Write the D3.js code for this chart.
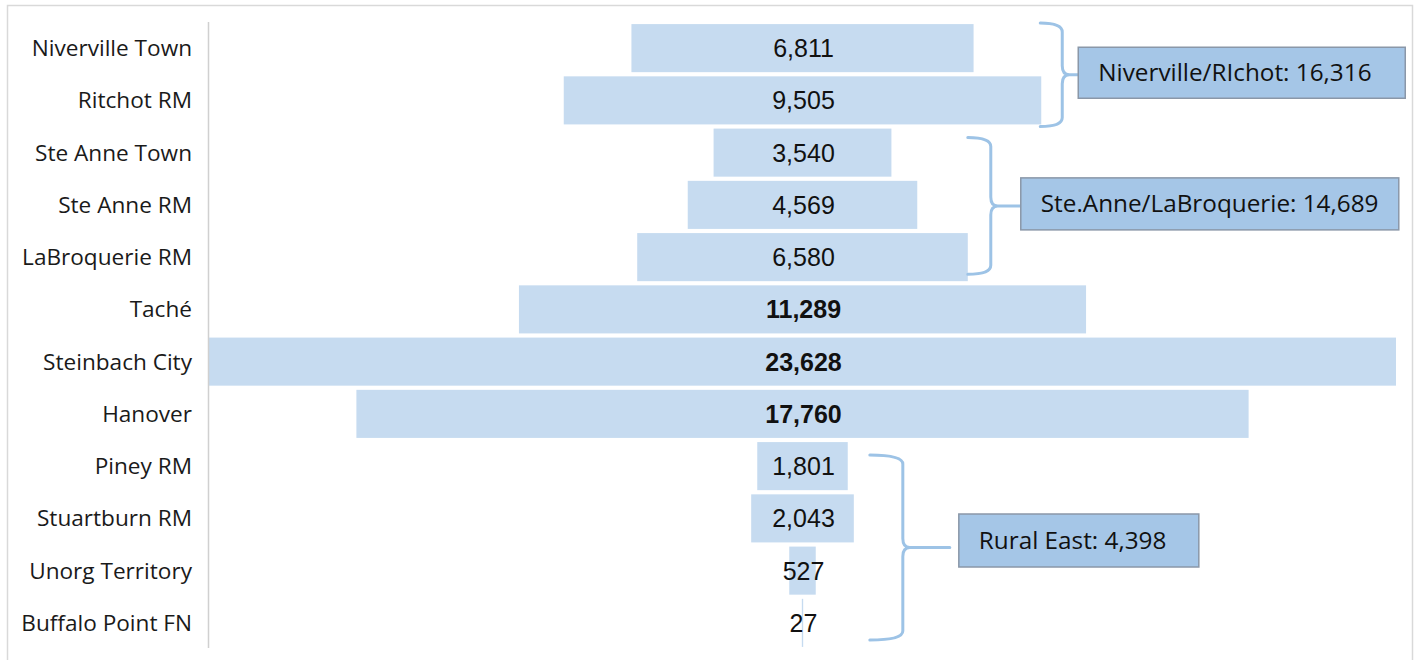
<!DOCTYPE html>
<html>
<head>
<meta charset="utf-8">
<title>Population funnel</title>
<script src="https://d3js.org/d3.v7.min.js"></script>
<style>
  body { margin: 0; background: #fff; }
  .bar { fill: #c6dbf0; }
  .cat { font-family: "Open Sans", Lato, sans-serif; font-size: 22.6px; fill: #1a1a1a; }
  .val { font-family: "Liberation Sans", Arial, sans-serif; font-size: 25px; fill: #111; }
  .val.strong { font-weight: bold; }
  .brace { fill: none; stroke: #9dc3e6; stroke-width: 3; stroke-linecap: round; }
  .gbox { fill: #a5c6e7; stroke: #8a97a8; stroke-width: 1.5; }
  .gtext { font-family: "Open Sans", Lato, sans-serif; font-size: 24.3px; fill: #111; }
</style>
</head>
<body>
<svg width="1418" height="660"></svg>
<script>
// data
var categories = ["Niverville Town", "Ritchot RM", "Ste Anne Town", "Ste Anne RM", "LaBroquerie RM",
                  "Taché", "Steinbach City", "Hanover", "Piney RM", "Stuartburn RM",
                  "Unorg Territory", "Buffalo Point FN"];
var values = [6811, 9505, 3540, 4569, 6580, 11289, 23628, 17760, 1801, 2043, 527, 27];
var boldOnes = ["Taché", "Steinbach City", "Hanover"];

var groupLabels = ["Niverville/RIchot: 16,316", "Ste.Anne/LaBroquerie: 14,689", "Rural East: 4,398"];
var groupFirst = ["Niverville Town", "Ste Anne Town", "Piney RM"];
var groupLast = ["Ritchot RM", "LaBroquerie RM", "Buffalo Point FN"];

// layout for the braces / boxes (per group)
var braceLayout = [
  {gap: -1, w: 22, tip: 16, top: -1, bot: 2,  boxW: 327, boxH: 51, boxDy: -2, boxGap: 0},
  {gap: 0,  w: 23, tip: 30, top: 9,  bot: -7, boxW: 378, boxH: 52, boxDy: -2, boxGap: 0},
  {gap: 16, w: 33, tip: 47, top: 13, bot: -7, boxW: 240, boxH: 53, boxDy: -7, boxGap: 9}
];

var svg = d3.select("svg");

// outer frame
svg.append("path")
  .attr("d", "M7.5,670 V5.5 H1412.5 V670")
  .attr("fill", "none").attr("stroke", "#d9d9d9").attr("stroke-width", 1.5);

var plotL = 209, plotR = 1396, plotT = 22, plotB = 649;
var center = (plotL + plotR) / 2;

var maxV = d3.max(values);
var w = d3.scaleLinear().domain([0, maxV]).range([0, plotR - plotL]);
var y = d3.scaleBand().domain(categories).range([plotT, plotB]).paddingInner(0.08).paddingOuter(0.04);

// bars centered on the middle line
svg.selectAll(".bar")
  .data(values)
  .enter().append("rect")
  .attr("class", "bar")
  .attr("x", function(d) { return center - w(d) / 2; })
  .attr("y", function(d, i) { return y(categories[i]); })
  .attr("width", function(d) { return Math.max(w(d), 1); })
  .attr("height", y.bandwidth());

// axis line + category labels
svg.append("line")
  .attr("x1", 208.5).attr("x2", 208.5).attr("y1", plotT).attr("y2", 648)
  .attr("stroke", "#d0d0d0").attr("stroke-width", 1.5);

svg.selectAll(".cat")
  .data(categories)
  .enter().append("text")
  .attr("class", "cat")
  .attr("x", 192)
  .attr("y", function(d) { return y(d) + y.bandwidth() / 2; })
  .attr("dy", "0.35em")
  .attr("text-anchor", "end")
  .text(function(d) { return d; });

// value labels
svg.selectAll(".val")
  .data(values)
  .enter().append("text")
  .attr("class", function(d, i) { return boldOnes.indexOf(categories[i]) >= 0 ? "val strong" : "val"; })
  .attr("x", center + 1)
  .attr("y", function(d, i) { return y(categories[i]) + y.bandwidth() / 2; })
  .attr("dy", "0.36em")
  .attr("text-anchor", "middle")
  .text(function(d) { return d3.format(",")(d); });

// braces and group boxes
groupLabels.forEach(function(label, g) {
  var L = braceLayout[g];
  var i0 = categories.indexOf(groupFirst[g]), i1 = categories.indexOf(groupLast[g]);
  var widest = d3.max(values.slice(i0, i1 + 1));
  var x0 = center + w(widest) / 2 + L.gap;
  var xv = x0 + L.w;
  var y0 = y(groupFirst[g]) + L.top;
  var y1 = y(groupLast[g]) + y.bandwidth() + L.bot;
  var ym = (y0 + y1) / 2;
  var r = 9, c = 7;
  var xt = xv + L.tip;

  var p = d3.path();
  p.moveTo(x0, y0);
  p.quadraticCurveTo(xv, y0, xv, y0 + r);
  p.lineTo(xv, ym - r);
  p.quadraticCurveTo(xv, ym, xv + c, ym);
  p.lineTo(xt, ym);
  p.moveTo(xv + c, ym);
  p.quadraticCurveTo(xv, ym, xv, ym + r);
  p.lineTo(xv, y1 - r);
  p.quadraticCurveTo(xv, y1, x0, y1);
  svg.append("path").attr("class", "brace").attr("d", p.toString());

  var bx = xt + L.boxGap, by = ym + L.boxDy - L.boxH / 2;
  svg.append("rect").attr("class", "gbox")
    .attr("x", bx).attr("y", by).attr("width", L.boxW).attr("height", L.boxH);
  svg.append("text").attr("class", "gtext")
    .attr("x", bx + 20).attr("y", by + L.boxH / 2).attr("dy", "0.35em")
    .text(label);
});
</script>
</body>
</html>
